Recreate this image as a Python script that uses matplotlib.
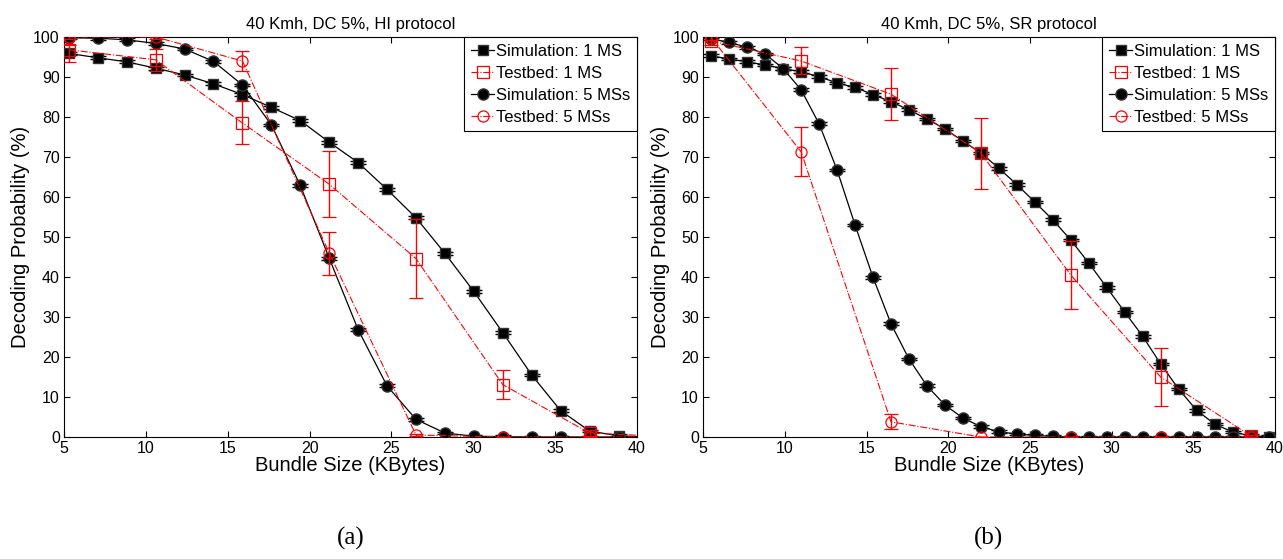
import matplotlib
matplotlib.use("Agg")
import matplotlib.pyplot as plt
import numpy as np

plt.rcParams['font.family'] = ['Liberation Sans', 'DejaVu Sans']

# ---------------- Panel (a): HI protocol ----------------
a_sim_x = [5.3, 7.07, 8.83, 10.6, 12.37, 14.13, 15.9, 17.67, 19.43, 21.2,
           22.97, 24.73, 26.5, 28.27, 30.03, 31.8, 33.57, 35.33, 37.1, 38.87, 40.63]
a_sim1 = [95.9, 94.8, 93.8, 92.2, 90.5, 88.3, 85.6, 82.4, 79.1, 73.7,
          68.6, 61.9, 54.8, 45.9, 36.4, 26.1, 15.5, 6.6, 1.5, 0.3, 0.0]
a_sim5 = [99.8, 99.7, 99.3, 98.4, 97.0, 93.9, 88.0, 78.0, 62.9, 44.7,
          26.8, 12.8, 4.4, 1.0, 0.2, 0.1, 0.0, 0.0, 0.0, 0.0, 0.0]
a_tb_x = [5.3, 10.6, 15.9, 21.2, 26.5, 31.8, 37.1, 42.4]
a_tb1 = [96.8, 94.3, 78.5, 63.2, 44.6, 13.1, 1.0, 0.0]
a_tb1_lo = [93.8, 91.6, 73.2, 55.0, 34.8, 9.5, 0.3, 0.0]
a_tb1_hi = [98.0, 97.0, 83.9, 71.4, 54.5, 16.7, 1.7, 0.0]
a_tb5 = [100.0, 100.0, 94.0, 46.0, 0.5, 0.0, 0.0, 0.0]
a_tb5_lo = [99.5, 99.5, 91.5, 40.5, 0.2, 0.0, 0.0, 0.0]
a_tb5_hi = [100.3, 100.3, 96.5, 51.3, 0.8, 0.0, 0.0, 0.0]

# ---------------- Panel (b): SR protocol ----------------
b_sim_x = [5.5, 6.6, 7.7, 8.8, 9.9, 11.0, 12.1, 13.2, 14.3, 15.4, 16.5,
           17.6, 18.7, 19.8, 20.9, 22.0, 23.1, 24.2, 25.3, 26.4, 27.5,
           28.6, 29.7, 30.8, 31.9, 33.0, 34.1, 35.2, 36.3, 37.4, 38.5, 39.6]
b_sim1 = [95.3, 94.5, 93.8, 93.0, 92.1, 91.3, 90.1, 88.5, 87.4, 85.6, 83.8,
          81.8, 79.5, 77.0, 74.0, 71.0, 67.2, 63.1, 58.75, 54.3, 49.25,
          43.5, 37.4, 31.25, 25.2, 18.25, 12.0, 6.7, 3.25, 1.25, 0.3, 0.1]
b_sim5 = [99.5, 98.7, 97.4, 95.75, 92.1, 86.8, 78.3, 66.75, 53.0, 39.9, 28.3,
          19.5, 12.8, 8.0, 4.75, 2.6, 1.3, 0.75, 0.4, 0.15, 0.0,
          0.0, 0.0, 0.0, 0.0, 0.0, 0.0, 0.0, 0.0, 0.0, 0.0, 0.0]
b_tb_x = [5.5, 11.0, 16.5, 22.0, 27.5, 33.0, 38.5]
b_tb1 = [99.0, 94.0, 85.7, 71.0, 40.5, 15.0, 0.3]
b_tb1_lo = [98.0, 90.8, 79.3, 62.0, 32.0, 7.8, 0.0]
b_tb1_hi = [100.3, 97.6, 92.2, 79.8, 49.0, 22.2, 0.6]
b_tb5 = [99.8, 71.3, 3.8, 0.0, 0.0, 0.0, 0.0]
b_tb5_lo = [99.3, 65.2, 2.0, 0.0, 0.0, 0.0, 0.0]
b_tb5_hi = [100.3, 77.5, 5.7, 0.0, 0.0, 0.0, 0.0]

titles = ["40 Kmh, DC 5%, HI protocol", "40 Kmh, DC 5%, SR protocol"]
legend_labels = ["Simulation: 1 MS", "Testbed: 1 MS", "Simulation: 5 MSs", "Testbed: 5 MSs"]
xticks = [5, 10, 15, 20, 25, 30, 35, 40]
yticks = [0, 10, 20, 30, 40, 50, 60, 70, 80, 90, 100]
captions = ["(a)", "(b)"]

fig = plt.figure(figsize=(12.83, 5.59), dpi=100)
ax_a = fig.add_axes([0.0499, 0.2182, 0.4466, 0.7156])
ax_b = fig.add_axes([0.5480, 0.2182, 0.4458, 0.7156])


def draw(ax, sx, s1, s5, tx, t1, t1lo, t1hi, t5, t5lo, t5hi, title):
    sim_err = [0.35] * len(sx)
    h1 = ax.errorbar(sx, s1, yerr=sim_err, color='black', lw=0.9, marker='s',
                     ms=7, mfc='black', mec='#333333', ecolor='black',
                     elinewidth=1.0, capsize=5.5, capthick=1.0, zorder=4)
    t1e = [np.subtract(t1, t1lo), np.subtract(t1hi, t1)]
    h2 = ax.errorbar(tx, t1, yerr=t1e, color='red', lw=0.8, ls='-.', marker='s',
                     ms=8, mfc='none', mec='red', mew=0.9, ecolor='red',
                     elinewidth=1.0, capsize=5, capthick=1.0, zorder=5)
    h3 = ax.errorbar(sx, s5, yerr=sim_err, color='black', lw=0.9, marker='o',
                     ms=8, mfc='black', mec='#333333', ecolor='black',
                     elinewidth=1.0, capsize=5.5, capthick=1.0, zorder=4)
    t5e = [np.subtract(t5, t5lo), np.subtract(t5hi, t5)]
    h4 = ax.errorbar(tx, t5, yerr=t5e, color='red', lw=0.8, ls='-.', marker='o',
                     ms=8, mfc='none', mec='red', mew=0.9, ecolor='red',
                     elinewidth=1.0, capsize=5, capthick=1.0, zorder=5)
    ax.set_xlim(5, 40)
    ax.set_ylim(0, 100)
    ax.set_xticks(xticks)
    ax.set_yticks(yticks)
    ax.tick_params(direction='in', top=True, right=True, labelsize=11.5, length=4,
                   pad=3)
    for s in ax.spines.values():
        s.set_linewidth(0.8)
    ax.set_title(title, fontsize=12, pad=6)
    ax.set_xlabel("Bundle Size (KBytes)", fontsize=14.5, labelpad=0)
    ax.set_ylabel("Decoding Probability (%)", fontsize=14.5, labelpad=2)
    leg = ax.legend([h1[0], h2[0], h3[0], h4[0]], legend_labels, loc='upper right',
                    bbox_to_anchor=(1.0, 1.0), borderaxespad=0.0, fontsize=12,
                    fancybox=False, framealpha=1, edgecolor='black',
                    handlelength=1.4, handletextpad=0.1, labelspacing=0.42,
                    borderpad=0.4, markerfirst=True)
    leg.get_frame().set_linewidth(0.8)


draw(ax_a, a_sim_x, a_sim1, a_sim5, a_tb_x, a_tb1, a_tb1_lo, a_tb1_hi,
     a_tb5, a_tb5_lo, a_tb5_hi, titles[0])
draw(ax_b, b_sim_x, b_sim1, b_sim5, b_tb_x, b_tb1, b_tb1_lo, b_tb1_hi,
     b_tb5, b_tb5_lo, b_tb5_hi, titles[1])

fig.text(0.2736, 0.037, captions[0], ha='center', va='center', fontsize=18,
         family='Liberation Serif')
fig.text(0.7705, 0.037, captions[1], ha='center', va='center', fontsize=18,
         family='Liberation Serif')

fig.savefig("out.png", dpi=100, facecolor='white')
